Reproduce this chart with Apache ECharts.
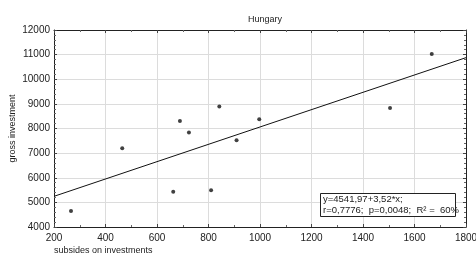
<!DOCTYPE html>
<html>
<head>
<meta charset="utf-8">
<script src="https://cdn.jsdelivr.net/npm/echarts@6/dist/echarts.min.js"></script>
<style>
  html, body { margin: 0; padding: 0; background: #fff; }
  #chart { width: 476px; height: 257px; }
</style>
</head>
<body>
<div id="chart"></div>
<script>
// subsidies on investments (x) vs gross investment (y)
const subsidies = [266, 465, 663, 689, 724, 810, 842, 909, 997, 1505, 1667]
const grossInvestment = [4650, 7200, 5430, 8300, 7840, 5490, 8890, 7520, 8380, 8830, 11030]

// fitted line y = a + b*x
const intercept = 4541.97
const slope = 3.52
const lineRange = [200, 1800]

const fitText = ['y=4541,97+3,52*x;', 'r=0,7776;  p=0,0048;  R² =  60%']

const chart = echarts.init(document.getElementById('chart'))

const font = 'Liberation Sans, Arial, sans-serif'
const axisCommon = {
  axisLine: { show: true, lineStyle: { color: '#222', width: 1 } },
  axisTick: { show: true, inside: true, length: 3, lineStyle: { color: '#444' } },
  minorTick: { show: true, length: 2, lineStyle: { color: '#666' } }
}
const plain = v => String(v)

chart.setOption({
  animation: false,
  title: {
    text: 'Hungary',
    left: 260,
    top: 10,
    textAlign: 'center',
    textStyle: { fontSize: 9, fontWeight: 'normal', color: '#222', fontFamily: font }
  },
  grid: { left: 54, right: 10, top: 30, bottom: 30, outerBoundsMode: 'none', containLabel: false },
  xAxis: [
    {
      ...axisCommon,
      type: 'value',
      min: 200,
      max: 1800,
      interval: 200,
      minorTick: { ...axisCommon.minorTick, splitNumber: 2 },
      name: 'subsides on investments',
      nameLocation: 'start',
      nameGap: 0,
      nameMoveOverlap: false,
      nameTextStyle: { fontSize: 9, color: '#222', fontFamily: font, align: 'left', verticalAlign: 'top', padding: [19, 0, 0, 0] },
      axisLabel: { fontSize: 10, color: '#222', fontFamily: font, margin: 6, formatter: plain },
      splitLine: { show: true, lineStyle: { color: '#dcdcdc', width: 1 } }
    },
    {
      ...axisCommon,
      type: 'value',
      position: 'top',
      min: 200,
      max: 1800,
      interval: 200,
      minorTick: { ...axisCommon.minorTick, splitNumber: 2 },
      axisLabel: { show: false },
      splitLine: { show: false }
    }
  ],
  yAxis: [
    {
      ...axisCommon,
      type: 'value',
      min: 4000,
      max: 12000,
      interval: 1000,
      minorTick: { ...axisCommon.minorTick, splitNumber: 5 },
      name: 'gross investment',
      nameLocation: 'middle',
      nameGap: 37,
      nameMoveOverlap: false,
      nameTextStyle: { fontSize: 9, color: '#222', fontFamily: font },
      axisLabel: { fontSize: 10, color: '#222', fontFamily: font, margin: 4, formatter: plain },
      splitLine: { show: true, lineStyle: { color: '#dcdcdc', width: 1 } }
    },
    {
      ...axisCommon,
      type: 'value',
      position: 'right',
      min: 4000,
      max: 12000,
      interval: 1000,
      minorTick: { ...axisCommon.minorTick, splitNumber: 5 },
      axisLabel: { show: false },
      splitLine: { show: false }
    }
  ],
  series: [
    {
      type: 'line',
      data: lineRange.map(x => [x, intercept + slope * x]),
      symbol: 'none',
      lineStyle: { color: '#111', width: 1 },
      silent: true
    },
    {
      type: 'scatter',
      data: subsidies.map((x, i) => [x, grossInvestment[i]]),
      symbol: 'circle',
      symbolSize: 4,
      itemStyle: { color: '#111' }
    }
  ],
  graphic: [
    {
      type: 'rect',
      left: 320,
      top: 193,
      z: 100,
      shape: { width: 135, height: 23 },
      style: { fill: '#fff', stroke: '#222', lineWidth: 1 }
    },
    {
      type: 'text',
      left: 323,
      top: 194,
      z: 101,
      style: {
        text: fitText.join('\n'),
        font: '9.5px ' + font,
        fill: '#222',
        lineHeight: 11
      }
    }
  ]
})
</script>
</body>
</html>
